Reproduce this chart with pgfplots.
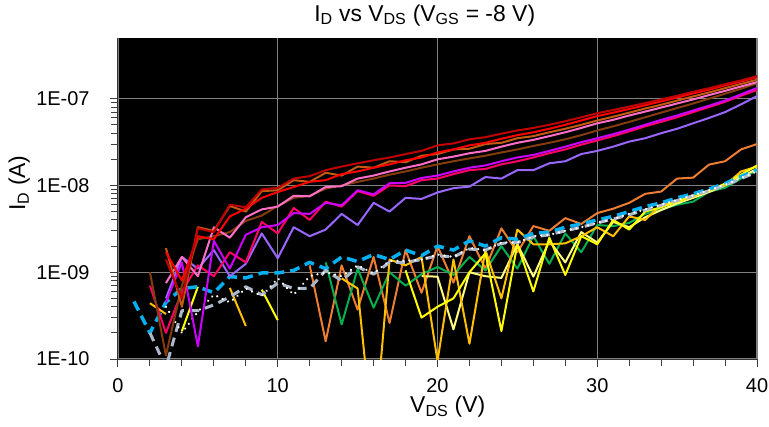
\documentclass[border=0pt]{standalone}
\usepackage{pgfplots}
\pgfplotsset{compat=1.18}
\usepackage{fontspec}
\setmainfont{Liberation Sans}
\definecolor{cDR}{HTML}{C00000}
\definecolor{cR}{HTML}{FF0000}
\definecolor{cOB}{HTML}{C55A11}
\definecolor{cBR}{HTML}{843C0C}
\definecolor{cPK}{HTML}{FF6EC7}
\definecolor{cMG}{HTML}{CC00FF}
\definecolor{cCR}{HTML}{FF0066}
\definecolor{cPU}{HTML}{9966FF}
\definecolor{cOR}{HTML}{ED7D31}
\definecolor{cCY}{HTML}{00B0F0}
\definecolor{cGY}{HTML}{ADB9CA}
\definecolor{cGR}{HTML}{00B050}
\definecolor{cYE}{HTML}{FFFF00}
\definecolor{cGD}{HTML}{FFC000}
\definecolor{cLY}{HTML}{FFFF80}
\definecolor{gridc}{HTML}{808080}
\begin{document}
\begin{tikzpicture}
\useasboundingbox (-118bp,-68bp) rectangle (651bp,359bp);
\begin{axis}[
  scale only axis, width=639bp, height=321bp,
  ymode=log, xmin=0, xmax=40, ymin=1e-10, ymax=5e-7,
  axis lines*=left,
  axis background/.style={fill=black},
  axis line style={draw=black!80, line width=1bp},
  xtick={0,10,20,30,40}, minor x tick num=4,
  ytick={1e-10,1e-9,1e-8,1e-7},
  yticklabels={1E-10,1E-09,1E-08,1E-07},
  tick align=outside,
  major tick length=8bp, minor tick length=7bp,
  every tick/.style={draw=black!75, line width=1bp},
  xmajorgrids, ymajorgrids,
  major grid style={draw=gridc, line width=1.2bp},
  /pgf/number format/assume math mode=true,
  tick label style={font=\fontsize{20}{24}\selectfont},
  yticklabel style={xshift=-17bp},
  xticklabel style={yshift=-8bp},
  unbounded coords=jump,
  title={I\textsubscript{D} vs V\textsubscript{DS} (V\textsubscript{GS} = -8 V)},
  title style={at={(axis description cs:0.48,1.034)}, anchor=base, font=\fontsize{23}{27}\selectfont, inner sep=0pt},
  xlabel={V\textsubscript{DS} (V)},
  xlabel style={at={(axis description cs:0.516,-0.1495)}, anchor=center, font=\fontsize{23}{27}\selectfont, inner sep=0pt},
  ylabel={I\textsubscript{D} (A)},
  ylabel style={at={(axis description cs:-0.1545,0.548)}, anchor=center, font=\fontsize{23}{27}\selectfont, inner sep=0pt},
  every axis plot/.append style={line width=2bp, line join=round},
]
% ---- lower group ----
\addplot[cOR] coordinates {(12,1.2e-9)(13,1.6e-10)(14,1.2e-9)(15,3.7e-10)(16,1.5e-9)(17,2.6e-10)(18,1.8e-9)(19,5.8e-10)(20,2.0e-9)(21,7.6e-10)(22,2.6e-9)(23,1.1e-9)(24,3.2e-9)(25,1.7e-9)(26,3.4e-9)(27,3.0e-9)(28,4.2e-9)(29,3.6e-9)(30,4.8e-9)(31,5.4e-9)(32,6.3e-9)(33,8e-9)(34,8.5e-9)(35,1.2e-8)(36,1.23e-8)(37,1.74e-8)(38,1.9e-8)(39,2.6e-8)(40,3.0e-8)};
\addplot[cGR] coordinates {(13,1.3e-9)(14,2.5e-10)(15,1.1e-9)(16,3.9e-10)(17,1.0e-9)(18,7e-10)(19,9.5e-10)(20,1.15e-9)(21,9.3e-10)(22,1.5e-9)(23,1.05e-9)(24,2.0e-9)(25,1.1e-9)(26,2.6e-9)(27,1.25e-9)(28,2.8e-9)(29,1.7e-9)(30,3.5e-9)(31,3.4e-9)(32,3.7e-9)(33,4.7e-9)(34,5.3e-9)(35,6e-9)(36,6.5e-9)(37,8.5e-9)(38,9.4e-9)(39,1.2e-8)(40,1.5e-8)};
\addplot[cLY] coordinates {(19,9e-10)(20,8.9e-10)(21,2.2e-10)(22,1.0e-9)(23,9e-10)(24,8.6e-10)(25,2.1e-9)(26,8.9e-10)(27,2.3e-9)(28,1.3e-9)(29,2.9e-9)(30,2.2e-9)(31,3.8e-9)(32,3.3e-9)(33,4.3e-9)(34,5.2e-9)(35,6.2e-9)(36,7.2e-9)(37,8.4e-9)(38,1e-8)(39,1.25e-8)(40,1.55e-8)};
\addplot[cGD] coordinates {(2,4.4e-10)(3,3.3e-10)(4,nan)(7,6.6e-10)(8,2.4e-10)(9,nan)(14,8.5e-10)(15,6.5e-10)(16,1e-11)(17,1.4e-9)(18,1.2e-9)(19,1.5e-9)(20,9.5e-11)(21,1.4e-9)(22,1.5e-10)(23,1.8e-9)(24,5e-10)(25,3.1e-9)(26,2.1e-9)(27,2.1e-9)(28,2.15e-9)(29,2.6e-9)(30,3.3e-9)(31,2.6e-9)(32,4.4e-9)(33,4e-9)(34,6e-9)(35,6.5e-9)(36,7.5e-9)(37,8.7e-9)(38,1e-8)(39,1.45e-8)(40,1.65e-8)};
\addplot[cYE] coordinates {(4,2.1e-10)(5,6.8e-10)(6,nan)(9,6.3e-10)(10,2.8e-10)(11,nan)(18,1.05e-9)(19,3e-10)(20,4e-10)(21,5e-10)(22,1.0e-9)(23,1.65e-9)(24,2.1e-10)(25,2.1e-9)(26,6e-10)(27,2.5e-9)(28,9.3e-10)(29,2.6e-9)(30,2.1e-9)(31,4e-9)(32,3.1e-9)(33,5e-9)(34,5.6e-9)(35,6.5e-9)(36,7.7e-9)(37,8.7e-9)(38,1.05e-8)(39,1.33e-8)(40,1.7e-8)};
\addplot[cCY, line width=3.5bp, dash pattern=on 10bp off 6bp] coordinates {(1,4.6e-10)(2,2e-10)(3,4.5e-10)(4,6.5e-10)(5,6.8e-10)(6,5.8e-10)(7,8.9e-10)(8,8.6e-10)(9,9.8e-10)(10,9.8e-10)(11,1.05e-9)(12,1.3e-9)(13,1.1e-9)(14,1.5e-9)(15,1.33e-9)(16,1.6e-9)(17,1.4e-9)(18,1.8e-9)(19,1.55e-9)(20,2.0e-9)(21,1.8e-9)(22,2.3e-9)(23,2.0e-9)(24,2.5e-9)(25,2.4e-9)(26,2.8e-9)(27,2.9e-9)(28,3.3e-9)(29,3.6e-9)(30,4.0e-9)(31,4.4e-9)(32,5.0e-9)(33,5.7e-9)(34,6.3e-9)(35,7.2e-9)(36,8.0e-9)(37,9.1e-9)(38,1.05e-8)(39,1.27e-8)(40,1.5e-8)};
\addplot[cGY, line width=3bp, dash pattern=on 9bp off 6bp] coordinates {(2,2e-10)(3,8e-11)(4,3.6e-10)(5,3.6e-10)(6,4.2e-10)(7,5.2e-10)(8,6.8e-10)(9,5.5e-10)(10,7.5e-10)(11,6.5e-10)(12,6.5e-10)(13,1.05e-9)(14,8e-10)(15,1.15e-9)(16,9.5e-10)(17,1.3e-9)(18,1.3e-9)(19,1.4e-9)(20,1.55e-9)(21,1.5e-9)(22,1.85e-9)(23,1.8e-9)(24,2.15e-9)(25,2.2e-9)(26,2.55e-9)(27,2.7e-9)(28,3.0e-9)(29,3.3e-9)(30,3.7e-9)(31,4.1e-9)(32,4.6e-9)(33,5.2e-9)(34,5.9e-9)(35,6.7e-9)(36,7.6e-9)(37,8.7e-9)(38,1.0e-8)(39,1.2e-8)(40,1.43e-8)};
\addplot[white, line width=2.5bp, line cap=round, dash pattern=on 0.01bp off 6bp] coordinates {(3,4e-10)(4,2e-10)(5,3.5e-10)(6,5.5e-10)(7,4.5e-10)(8,6.5e-10)(9,5.3e-10)(10,8.5e-10)(11,5.5e-10)(12,9e-10)(13,1.0e-9)(14,9e-10)(15,1.2e-9)(16,9.7e-10)(17,1.35e-9)(18,1.35e-9)(19,1.4e-9)(20,1.6e-9)(21,1.5e-9)(22,1.9e-9)(23,1.8e-9)(24,2.2e-9)(25,2.2e-9)(26,2.6e-9)(27,2.7e-9)(28,3.0e-9)(29,3.3e-9)(30,3.7e-9)(31,4.1e-9)(32,4.7e-9)(33,5.3e-9)(34,6e-9)(35,6.8e-9)(36,7.7e-9)(37,8.8e-9)(38,1.02e-8)(39,1.22e-8)(40,1.45e-8)};
% ---- upper group ----
\addplot[cPU] coordinates {(3,5e-10)(4,1.5e-9)(5,1.1e-9)(6,1.8e-9)(7,9e-10)(8,1.25e-9)(9,2.8e-9)(10,1.45e-9)(11,3.3e-9)(12,2.6e-9)(13,3.1e-9)(14,4.7e-9)(15,3.5e-9)(16,6.3e-9)(17,5.0e-9)(18,7.2e-9)(19,7.0e-9)(20,8.3e-9)(21,9.3e-9)(22,9.7e-9)(23,1.25e-8)(24,1.2e-8)(25,1.5e-8)(26,1.5e-8)(27,1.8e-8)(28,1.9e-8)(29,2.3e-8)(30,2.5e-8)(31,2.8e-8)(32,3.2e-8)(33,3.5e-8)(34,4.0e-8)(35,4.5e-8)(36,5.2e-8)(37,6.0e-8)(38,7.0e-8)(39,8.6e-8)(40,1.07e-7)};
\addplot[cCR] coordinates {(2,7e-10)(3,2e-10)(4,6e-10)(5,1.2e-9)(6,9e-10)(7,1.7e-9)(8,1.3e-9)(9,3.8e-9)(10,2.8e-9)(11,5.5e-9)(12,4.0e-9)(13,6.5e-9)(14,5.7e-9)(15,8.6e-9)(16,7.6e-9)(17,1.0e-8)(18,9.8e-9)(19,1.15e-8)(20,1.2e-8)(21,1.35e-8)(22,1.5e-8)(23,1.55e-8)(24,1.75e-8)(25,1.9e-8)(26,2.1e-8)(27,2.35e-8)(28,2.6e-8)(29,2.95e-8)(30,3.3e-8)(31,3.7e-8)(32,4.2e-8)(33,4.8e-8)(34,5.4e-8)(35,6.1e-8)(36,7e-8)(37,8e-8)(38,9.2e-8)(39,1.08e-7)(40,1.26e-7)};
\addplot[cMG] coordinates {(3,4.5e-10)(4,1.3e-9)(5,1.4e-10)(6,2.3e-9)(7,1.1e-9)(8,2.7e-9)(9,3.3e-9)(10,3.5e-9)(11,4.8e-9)(12,4.7e-9)(13,6.3e-9)(14,5.9e-9)(15,8.8e-9)(16,7.9e-9)(17,1.06e-8)(18,1.07e-8)(19,1.22e-8)(20,1.3e-8)(21,1.45e-8)(22,1.6e-8)(23,1.7e-8)(24,1.9e-8)(25,2.1e-8)(26,2.25e-8)(27,2.5e-8)(28,2.8e-8)(29,3.15e-8)(30,3.5e-8)(31,3.9e-8)(32,4.4e-8)(33,5.0e-8)(34,5.7e-8)(35,6.4e-8)(36,7.3e-8)(37,8.3e-8)(38,9.5e-8)(39,1.12e-7)(40,1.33e-7)};
\addplot[cBR] coordinates {(2,1.0e-9)(3,1.1e-10)(4,7e-10)(5,2.4e-9)(6,2.6e-9)(7,2.9e-9)(8,3.9e-9)(9,4.5e-9)(10,5.8e-9)(11,7.2e-9)(12,7.6e-9)(13,9.2e-9)(14,1.0e-8)(15,1.1e-8)(16,1.2e-8)(17,1.33e-8)(18,1.45e-8)(19,1.6e-8)(20,1.75e-8)(21,1.9e-8)(22,2.05e-8)(23,2.2e-8)(24,2.4e-8)(25,2.6e-8)(26,2.85e-8)(27,3.1e-8)(28,3.4e-8)(29,3.8e-8)(30,4.3e-8)(31,4.8e-8)(32,5.4e-8)(33,6.1e-8)(34,6.9e-8)(35,7.8e-8)(36,8.8e-8)(37,1.0e-7)(38,1.14e-7)(39,1.3e-7)(40,1.5e-7)};
\addplot[cPK] coordinates {(3,7.5e-10)(4,1.5e-9)(5,9e-10)(6,3.3e-9)(7,2.5e-9)(8,4.3e-9)(9,5.3e-9)(10,5.7e-9)(11,7.6e-9)(12,7.5e-9)(13,9.6e-9)(14,9.8e-9)(15,1.2e-8)(16,1.3e-8)(17,1.45e-8)(18,1.6e-8)(19,1.75e-8)(20,2.0e-8)(21,2.15e-8)(22,2.35e-8)(23,2.5e-8)(24,2.8e-8)(25,3.1e-8)(26,3.35e-8)(27,3.7e-8)(28,4.1e-8)(29,4.6e-8)(30,5.2e-8)(31,5.7e-8)(32,6.4e-8)(33,7.1e-8)(34,7.9e-8)(35,8.8e-8)(36,9.8e-8)(37,1.1e-7)(38,1.23e-7)(39,1.38e-7)(40,1.55e-7)};
\addplot[cOB] coordinates {(3,1.9e-9)(4,4e-10)(5,3.3e-9)(6,3.0e-9)(7,5.8e-9)(8,5.0e-9)(9,8.6e-9)(10,8.8e-9)(11,1.15e-8)(12,1.1e-8)(13,1.4e-8)(14,1.3e-8)(15,1.65e-8)(16,1.6e-8)(17,1.9e-8)(18,1.85e-8)(19,2.2e-8)(20,2.3e-8)(21,2.6e-8)(22,2.65e-8)(23,3.0e-8)(24,3.1e-8)(25,3.5e-8)(26,3.7e-8)(27,4.1e-8)(28,4.5e-8)(29,5.0e-8)(30,5.6e-8)(31,6.2e-8)(32,6.9e-8)(33,7.7e-8)(34,8.5e-8)(35,9.5e-8)(36,1.06e-7)(37,1.18e-7)(38,1.32e-7)(39,1.48e-7)(40,1.65e-7)};
\addplot[cR] coordinates {(3,1.7e-9)(4,8e-10)(5,2.6e-9)(6,2.4e-9)(7,4.4e-9)(8,5.4e-9)(9,7.2e-9)(10,8.4e-9)(11,9.6e-9)(12,1.1e-8)(13,1.15e-8)(14,1.35e-8)(15,1.45e-8)(16,1.6e-8)(17,1.75e-8)(18,1.95e-8)(19,2.1e-8)(20,2.4e-8)(21,2.6e-8)(22,2.9e-8)(23,3.1e-8)(24,3.45e-8)(25,3.8e-8)(26,4.1e-8)(27,4.5e-8)(28,5.0e-8)(29,5.6e-8)(30,6.3e-8)(31,6.9e-8)(32,7.6e-8)(33,8.4e-8)(34,9.3e-8)(35,1.03e-7)(36,1.15e-7)(37,1.27e-7)(38,1.42e-7)(39,1.58e-7)(40,1.76e-7)};
\addplot[cDR] coordinates {(3,1.4e-9)(4,5e-10)(5,3.2e-9)(6,2.9e-9)(7,6.0e-9)(8,5.6e-9)(9,9.0e-9)(10,9.4e-9)(11,1.2e-8)(12,1.28e-8)(13,1.5e-8)(14,1.65e-8)(15,1.8e-8)(16,1.95e-8)(17,2.1e-8)(18,2.3e-8)(19,2.5e-8)(20,2.9e-8)(21,3.05e-8)(22,3.4e-8)(23,3.6e-8)(24,3.95e-8)(25,4.3e-8)(26,4.6e-8)(27,5.0e-8)(28,5.5e-8)(29,6.1e-8)(30,6.8e-8)(31,7.4e-8)(32,8.1e-8)(33,8.9e-8)(34,9.8e-8)(35,1.08e-7)(36,1.2e-7)(37,1.32e-7)(38,1.47e-7)(39,1.62e-7)(40,1.82e-7)};
\end{axis}
\end{tikzpicture}
\end{document}
